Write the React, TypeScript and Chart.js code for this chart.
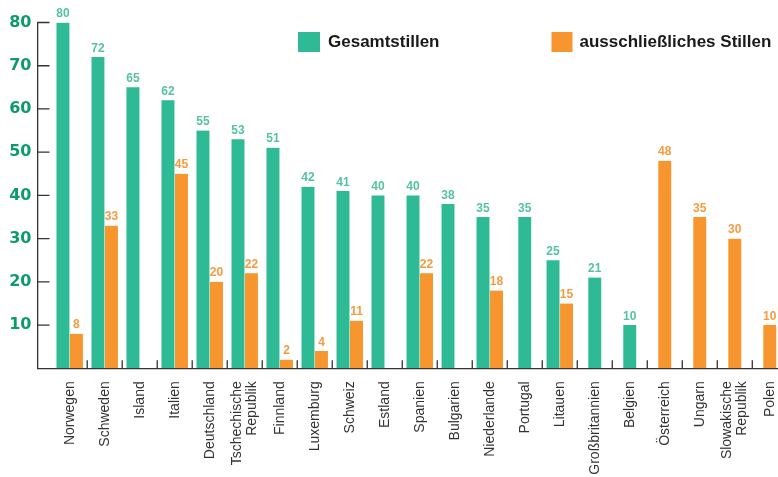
import React, { useEffect, useRef } from "react";
import { Chart, registerables } from "chart.js";

Chart.register(...registerables);

const categories = [
  "Norwegen",
  "Schweden",
  "Island",
  "Italien",
  "Deutschland",
  "Tschechische\nRepublik",
  "Finnland",
  "Luxemburg",
  "Schweiz",
  "Estland",
  "Spanien",
  "Bulgarien",
  "Niederlande",
  "Portugal",
  "Litauen",
  "Großbritannien",
  "Belgien",
  "Österreich",
  "Ungarn",
  "Slowakische\nRepublik",
  "Polen",
];

const gesamtstillen: (number | null)[] = [
  80, 72, 65, 62, 55, 53, 51, 42, 41, 40, 40, 38, 35, 35, 25, 21, 10, null, null, null, null,
];

const ausschliesslich: (number | null)[] = [
  8, 33, 0, 45, 20, 22, 2, 4, 11, 0, 22, 0, 18, null, 15, null, null, 48, 35, 30, 10,
];

const yTicks = [10, 20, 30, 40, 50, 60, 70, 80];
const seriesNames = ["Gesamtstillen", "ausschließliches Stillen"];

const GREEN = "#2fba96";
const ORANGE = "#f7962e";
const GREEN_LABEL = "#55c2a2";
const ORANGE_LABEL = "#f59b3e";
const AXIS = "#333333";

const decorPlugin = {
  id: "decor",
  afterDatasetsDraw(chart: any) {
    const ctx = chart.ctx;
    const series = [gesamtstillen, ausschliesslich];
    const colors = [GREEN_LABEL, ORANGE_LABEL];
    ctx.save();
    ctx.font = "bold 12px 'Liberation Sans', Arial, sans-serif";
    ctx.textAlign = "center";
    ctx.textBaseline = "alphabetic";
    series.forEach((arr, d) => {
      const meta = chart.getDatasetMeta(d);
      meta.data.forEach((el: any, i: number) => {
        const v = arr[i];
        if (v == null || v === 0) return;
        ctx.fillStyle = colors[d];
        ctx.fillText(String(v), el.x, el.y - 5.5);
      });
    });
    ctx.restore();
  },
  afterDraw(chart: any) {
    const ctx = chart.ctx;
    const xs = chart.scales.x;
    const ys = chart.scales.y;
    const area = chart.chartArea;
    ctx.save();
    // tick marks
    ctx.strokeStyle = AXIS;
    ctx.lineWidth = 1.3;
    ctx.beginPath();
    for (let k = 0; k < categories.length - 1; k++) {
      const px = xs.getPixelForValue(k + 0.5);
      ctx.moveTo(px, area.bottom);
      ctx.lineTo(px, area.bottom - 8);
    }
    yTicks.forEach((v) => {
      const py = ys.getPixelForValue(v);
      ctx.moveTo(area.left, py);
      ctx.lineTo(area.left + 12, py);
    });
    ctx.stroke();

    // category labels
    ctx.fillStyle = AXIS;
    ctx.font = "14px 'Liberation Sans', Arial, sans-serif";
    ctx.textAlign = "right";
    ctx.textBaseline = "middle";
    categories.forEach((label, i) => {
      const lines = label.split("\n");
      const px = xs.getPixelForValue(i);
      ctx.save();
      ctx.translate(px, xs.top + 13);
      ctx.rotate(-Math.PI / 2);
      lines.forEach((ln, j) => {
        ctx.fillText(ln, 0, (j - (lines.length - 1) / 2) * 15.5);
      });
      ctx.restore();
    });

    // legend
    ctx.font = "bold 17px 'Liberation Sans', Arial, sans-serif";
    ctx.textAlign = "left";
    ctx.textBaseline = "middle";
    ctx.fillStyle = GREEN;
    ctx.fillRect(298, 32, 22, 20);
    ctx.fillStyle = "#1a1a1a";
    ctx.fillText(seriesNames[0], 328, 42);
    ctx.fillStyle = ORANGE;
    ctx.fillRect(551.5, 32, 21, 20);
    ctx.fillStyle = "#1a1a1a";
    ctx.fillText(seriesNames[1], 579.5, 42);
    ctx.restore();
  },
};

export default function App() {
  const ref = useRef<HTMLCanvasElement | null>(null);

  useEffect(() => {
    if (!ref.current) return;
    const barStyle = {
      barThickness: 13.5,
      borderColor: "#ffffff",
      borderWidth: { left: 0.6, right: 0.6, top: 0, bottom: 0 },
      borderSkipped: false as any,
      skipNull: true,
    };
    const chart = new Chart(ref.current, {
      type: "bar",
      data: {
        datasets: [
          {
            label: seriesNames[0],
            data: gesamtstillen.map((v, i) => ({ x: i, y: v })) as any,
            backgroundColor: GREEN,
            ...barStyle,
          },
          {
            label: seriesNames[1],
            data: ausschliesslich.map((v, i) => ({ x: i, y: v })) as any,
            backgroundColor: ORANGE,
            ...barStyle,
          },
        ],
      },
      options: {
        animation: false,
        responsive: false,
        layout: { padding: { top: 22.5, left: 0, right: 0, bottom: 0 } },
        plugins: {
          legend: { display: false },
          tooltip: { enabled: false },
        },
        scales: {
          x: {
            type: "linear",
            offset: false,
            min: -0.92,
            max: 20.72,
            afterBuildTicks: (s: any) => {
              s.ticks = categories.map((_, i) => ({ value: i }));
            },
            afterFit: (s: any) => {
              s.height = 108.7;
            },
            grid: { display: false, drawTicks: false, offset: false },
            border: { display: true, color: AXIS, width: 1.3 },
            ticks: { display: false },
          },
          y: {
            min: 0,
            max: 80,
            afterBuildTicks: (s: any) => {
              s.ticks = yTicks.map((v) => ({ value: v }));
            },
            afterFit: (s: any) => {
              s.width = 37.5;
            },
            grid: { display: false, drawTicks: false },
            border: { display: true, color: AXIS, width: 1.3 },
            ticks: {
              padding: 6,
              color: "#0e9b6c",
              font: { family: "'DejaVu Sans', sans-serif", weight: "bold", size: 16 },
            },
          },
        },
      },
      plugins: [decorPlugin],
    });
    return () => chart.destroy();
  }, []);

  return (
    <div
      style={{
        position: "absolute",
        left: 0,
        top: 0,
        width: 778,
        height: 477,
        overflow: "hidden",
        background: "#ffffff",
      }}
    >
      <canvas ref={ref} width={795} height={477} style={{ display: "block" }} />
    </div>
  );
}
